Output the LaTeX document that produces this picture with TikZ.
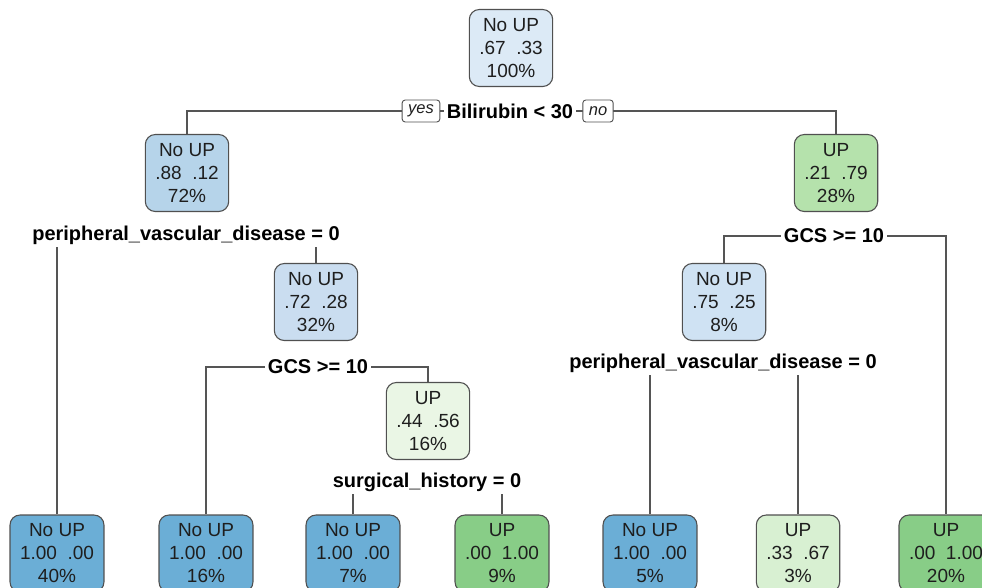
\documentclass[tikz,border=0pt]{standalone}
\usepackage{fontspec}
\setmainfont{Liberation Sans}
\usetikzlibrary{backgrounds}
\definecolor{boxgray}{HTML}{505050}
\definecolor{linegray}{HTML}{555555}
\definecolor{textgray}{HTML}{1E1E1E}
\definecolor{blueA}{HTML}{DCEAF6}
\definecolor{blueB}{HTML}{B6D4EA}
\definecolor{blueC}{HTML}{CADDF0}
\definecolor{blueD}{HTML}{CFE2F3}
\definecolor{blueE}{HTML}{6BAED6}
\definecolor{greenA}{HTML}{B5E2AC}
\definecolor{greenB}{HTML}{EAF6E5}
\definecolor{greenC}{HTML}{D8F0D2}
\definecolor{greenD}{HTML}{88CD87}

\begin{document}
\begin{tikzpicture}[x=1pt,y=-1pt,
	box/.style={draw=boxgray,line width=1.1pt,rounded corners=10pt,align=center,
			minimum height=77pt,inner xsep=10pt,text=textgray,
			font=\fontsize{19}{23}\selectfont},
	split/.style={fill=white,inner sep=3pt,font=\bfseries\fontsize{20}{23}\selectfont},
	yesno/.style={draw=boxgray,fill=white,line width=0.9pt,rounded corners=3pt,inner xsep=6pt,
			minimum height=22pt,inner ysep=2pt,text=textgray,font=\itshape\fontsize{16.5}{18}\selectfont},
	branch/.style={draw=linegray,line width=1.2pt}]

	\useasboundingbox (0,0) rectangle (982,587);
	\clip (0,0) rectangle (982,587);

	\node[box,fill=blueA] (n1) at (511,48) {No UP\\.67\ \ .33\\100\%};
	\node[box,fill=blueB] (n2) at (187,173) {No UP\\.88\ \ .12\\72\%};
	\node[box,fill=greenA] (n3) at (836,173) {UP\\.21\ \ .79\\28\%};
	\node[box,fill=blueC] (n5) at (316,302) {No UP\\.72\ \ .28\\32\%};
	\node[box,fill=blueD] (n10) at (724,302) {No UP\\.75\ \ .25\\8\%};
	\node[box,fill=greenB] (n7) at (428,421) {UP\\.44\ \ .56\\16\%};

	\node[box,fill=blueE] (n4) at (57,553.5) {No UP\\1.00\ \ .00\\40\%};
	\node[box,fill=blueE] (n6) at (206,553.5) {No UP\\1.00\ \ .00\\16\%};
	\node[box,fill=blueE] (n8) at (353,553.5) {No UP\\1.00\ \ .00\\7\%};
	\node[box,fill=greenD] (n9) at (502,553.5) {UP\\.00\ \ 1.00\\9\%};
	\node[box,fill=blueE] (n12) at (650,553.5) {No UP\\1.00\ \ .00\\5\%};
	\node[box,fill=greenC] (n13) at (798,553.5) {UP\\.33\ \ .67\\3\%};
	\node[box,fill=greenD] (n11) at (946,553.5) {UP\\.00\ \ 1.00\\20\%};

	\node[split] (s1) at (510,111) {Bilirubin < 30};
	\node[split] (s2) at (186,235) {peripheral\_vascular\_disease = 0};
	\node[split] (s3) at (318,367) {GCS >= 10};
	\node[split] (s4) at (427,482) {surgical\_history = 0};
	\node[split] (s5) at (834,236) {GCS >= 10};
	\node[split] (s6) at (723,363) {peripheral\_vascular\_disease = 0};

	\node[yesno] (yes1) at (421,111) {yes};
	\node[yesno] (no1) at (598,111) {no};

	\begin{scope}[on background layer]
		\draw[branch] (n2.north) |- (s1.center) -| (n3.north);
		\draw[branch] (n4.north) |- (s2.center) -| (n5.north);
		\draw[branch] (n6.north) |- (s3.center) -| (n7.north);
		\draw[branch] (n8.north) |- (s4.center) -| (n9.north);
		\draw[branch] (n10.north) |- (s5.center) -| (n11.north);
		\draw[branch] (n12.north) |- (s6.center) -| (n13.north);
	\end{scope}
\end{tikzpicture}
\end{document}
